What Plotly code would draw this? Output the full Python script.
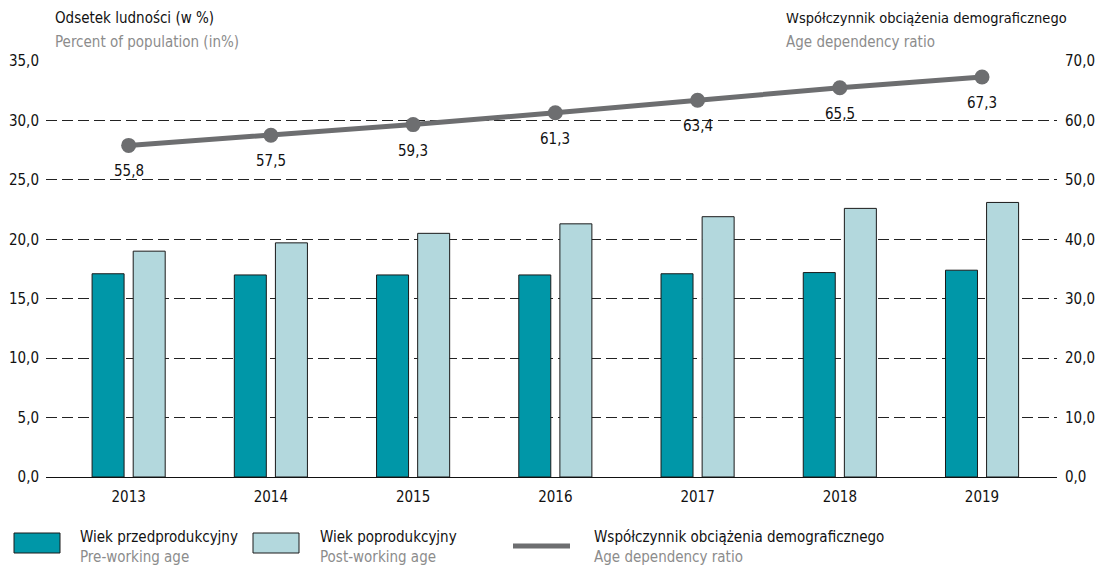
import plotly.graph_objects as go

years = ["2013", "2014", "2015", "2016", "2017", "2018", "2019"]
pre_working = [17.1, 17.0, 17.0, 17.0, 17.1, 17.2, 17.4]
post_working = [19.0, 19.7, 20.5, 21.3, 21.9, 22.6, 23.1]
dependency_ratio = [55.8, 57.5, 59.3, 61.3, 63.4, 65.5, 67.3]

left_ticks = [0, 5, 10, 15, 20, 25, 30, 35]
right_ticks = [0, 10, 20, 30, 40, 50, 60, 70]

FONT = "Liberation Sans Narrow, DejaVu Sans Condensed, sans-serif"
DARK = "#0097a8"
LIGHT = "#b3d8dd"
LINE = "#6d6e70"
GREY_TXT = "#8c8c8c"

# the page puts the figure 8px in from the top-left corner
OFF = 8
W, H = 1103 - OFF, 567 - OFF
# plot area in window pixels: x 46..1057, y 61..477
L, R, T, B = 46 - OFF, 1103 - 1057, 61 - OFF, 567 - 477
PW, PH = W - L - R, H - T - B


def px(x):
    return (x - OFF - L) / PW


def py(y):
    return (H - B - (y - OFF)) / PH


xs = list(range(len(years)))

fig = go.Figure()
fig.add_bar(
    x=xs, y=pre_working, width=0.225, offset=-0.257,
    marker=dict(color=DARK, line=dict(color="#1a1a1a", width=1)),
    showlegend=False, name="Wiek przedprodukcyjny",
)
fig.add_bar(
    x=xs, y=post_working, width=0.225, offset=0.032,
    marker=dict(color=LIGHT, line=dict(color="#1a1a1a", width=1)),
    showlegend=False, name="Wiek poprodukcyjny",
)
fig.add_scatter(
    x=xs, y=dependency_ratio, yaxis="y2", mode="lines+markers",
    line=dict(color=LINE, width=5),
    marker=dict(color=LINE, size=15),
    showlegend=False, cliponaxis=False,
)
for x, v in zip(xs, dependency_ratio):
    fig.add_annotation(x=x, y=v, xref="x", yref="y2", text=f"{v:.1f}".replace(".", ","),
                       showarrow=False, yshift=-26, font=dict(size=15, color="#111"))

fig.update_layout(
    width=W, height=H,
    margin=dict(l=L, r=R, t=T, b=B),
    plot_bgcolor="white", paper_bgcolor="white",
    separators=", ",
    font=dict(family=FONT, size=15, color="#111"),
    barmode="overlay",
    xaxis=dict(
        range=[-0.581, 6.527], tickvals=xs, ticktext=years,
        showgrid=False, zeroline=False, showline=False, automargin=False,
        ticks="", ticklabelstandoff=9,
        tickfont=dict(size=15, color="#111"),
    ),
    yaxis=dict(
        range=[0, 35], tickvals=left_ticks, tickformat=".1f", automargin=False,
        showgrid=True, gridcolor="#222", gridwidth=1, griddash="11px,5px",
        zeroline=True, zerolinecolor="#111", zerolinewidth=1.2,
        ticks="", ticklabelstandoff=6,
        tickfont=dict(size=15, color="#111"),
    ),
    yaxis2=dict(
        range=[0, 70], tickvals=right_ticks, tickformat=".1f", automargin=False,
        overlaying="y", side="right", showgrid=False, zeroline=False,
        ticks="", ticklabelstandoff=7,
        tickfont=dict(size=15, color="#111"),
    ),
)

# axis titles
fig.add_annotation(xref="paper", yref="paper", x=px(53), y=py(18), text="Odsetek ludności (w %)",
                   showarrow=False, xanchor="left", yanchor="middle", font=dict(size=15, color="#111"))
fig.add_annotation(xref="paper", yref="paper", x=px(53), y=py(42), text="Percent of population (in%)",
                   showarrow=False, xanchor="left", yanchor="middle", font=dict(size=15, color=GREY_TXT))
fig.add_annotation(xref="paper", yref="paper", x=px(784), y=py(18), text="Współczynnik obciążenia demograficznego",
                   showarrow=False, xanchor="left", yanchor="middle", font=dict(size=14.5, color="#111"))
fig.add_annotation(xref="paper", yref="paper", x=px(784), y=py(42), text="Age dependency ratio",
                   showarrow=False, xanchor="left", yanchor="middle", font=dict(size=15, color=GREY_TXT))

# custom legend
legend_items = [
    ("rect", DARK, 14, 78, "Wiek przedprodukcyjny", "Pre-working age"),
    ("rect", LIGHT, 253, 318, "Wiek poprodukcyjny", "Post-working age"),
    ("line", LINE, 513, 592, "Współczynnik obciążenia demograficznego", "Age dependency ratio"),
]
for kind, color, x0, tx, t1, t2 in legend_items:
    if kind == "rect":
        fig.add_shape(type="rect", xref="paper", yref="paper",
                      x0=px(x0), x1=px(x0 + 46), y0=py(553), y1=py(533),
                      fillcolor=color, line=dict(color="#1a1a1a", width=1))
    else:
        fig.add_shape(type="line", xref="paper", yref="paper",
                      x0=px(x0), x1=px(x0 + 57), y0=py(546), y1=py(546),
                      line=dict(color=color, width=5))
    fig.add_annotation(xref="paper", yref="paper", x=px(tx), y=py(537), text=t1,
                       showarrow=False, xanchor="left", yanchor="middle",
                       font=dict(size=15, color="#111"))
    fig.add_annotation(xref="paper", yref="paper", x=px(tx), y=py(557), text=t2,
                       showarrow=False, xanchor="left", yanchor="middle",
                       font=dict(size=15, color=GREY_TXT))

fig.write_html("out.html")
